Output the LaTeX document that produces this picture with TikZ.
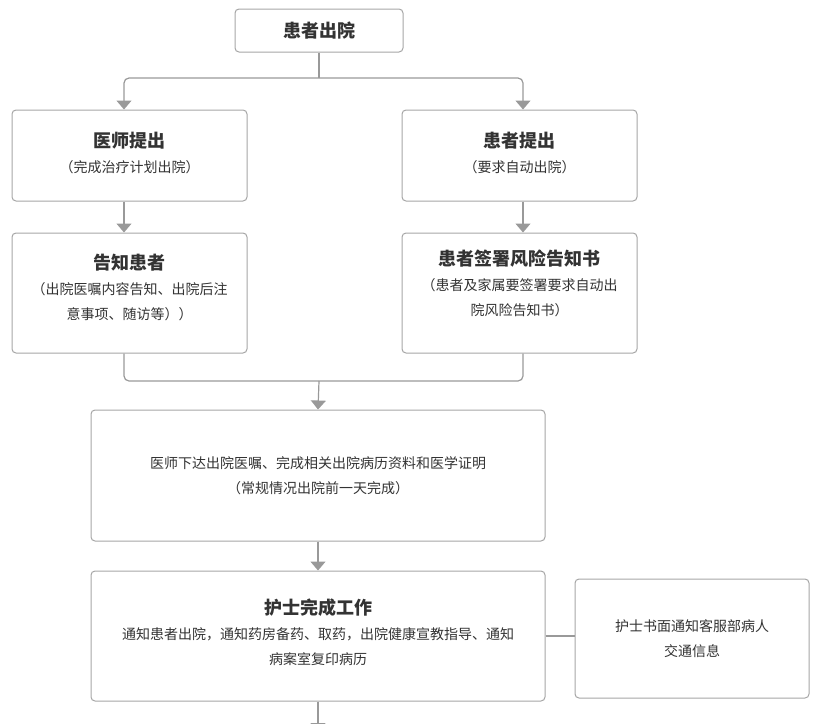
\documentclass[tikz,border=0pt]{standalone}
\usepackage{fontspec}
\setmainfont{Noto Sans CJK SC}
\usetikzlibrary{arrows.meta}
\definecolor{fc-line}{HTML}{999999}
\definecolor{fc-border}{HTML}{A6A6A6}
\definecolor{fc-text}{HTML}{333333}
\newcommand\fctitle{\fontsize{18}{25}\selectfont\bfseries}

\begin{document}
\begin{tikzpicture}[x=1pt, y=-1pt, >={Triangle[width=15pt,length=9pt]},
    box/.style={draw=fc-border, line width=1pt, rounded corners=4pt, fill=white,
        text=fc-text, align=center, inner sep=0pt,
        font=\fontsize{14}{25}\selectfont},
    flow/.style={draw=fc-line, line width=1.2pt, rounded corners=5pt},
    arrow/.style={flow, ->}]
    \clip (0,0) rectangle (824,723);

    % Start
    \node[box, minimum width=168, minimum height=43] (start) at (319,30.5) {\fctitle 患者出院};

    % Two ways out
    \node[box, minimum width=235, minimum height=91, text depth=6pt] (doctor) at (129.5,155.5)
        {{\fctitle 医师提出}\\（完成治疗计划出院）};
    \node[box, minimum width=235, minimum height=91, text depth=6pt] (patient) at (519.5,155.5)
        {{\fctitle 患者提出}\\（要求自动出院）};
    \node[box, minimum width=235, minimum height=120, text depth=12pt] (inform) at (129.5,293)
        {{\fctitle 告知患者}\\（出院医嘱内容告知、出院后注\\意事项、随访等））};
    \node[box, minimum width=235, minimum height=120, text depth=20pt] (sign) at (519.5,293)
        {{\fctitle 患者签署风险告知书}\\（患者及家属要签署要求自动出\\院风险告知书）};

    % Common steps
    \node[box, minimum width=454, minimum height=131] (order) at (318,475.5)
        {医师下达出院医嘱、完成相关出院病历资料和医学证明\\（常规情况出院前一天完成）};
    \node[box, minimum width=454, minimum height=130, text depth=8pt] (nurse) at (318,636)
        {{\fctitle 护士完成工作}\\通知患者出院，通知药房备药、取药，出院健康宣教指导、通知\\病案室复印病历};
    \node[box, minimum width=234, minimum height=119] (notice) at (692,638.5)
        {护士书面通知客服部病人\\交通信息};

    \coordinate (split) at (319,78);
    \coordinate (join) at (319,381);
    \coordinate (next) at (318,732);

    % Connections
    \draw[flow] (start.south) -- (split);
    \draw[arrow] (split) -| ([xshift=-5.5pt]doctor.north);
    \draw[arrow] (split) -| ([xshift=3.5pt]patient.north);
    \draw[arrow] ([xshift=-5.5pt]doctor.south) -- ([xshift=-5.5pt]inform.north);
    \draw[arrow] ([xshift=3.5pt]patient.south) -- ([xshift=3.5pt]sign.north);
    \draw[flow] ([xshift=-5.5pt]inform.south) |- (join) -| ([xshift=3.5pt]sign.south);
    \draw[arrow] (join) -- (order.north);
    \draw[arrow] (order.south) -- (nurse.north);
    \draw[arrow] (nurse.south) -- (next);
    \draw[draw=fc-line, line width=2pt] (nurse.east) -- (nurse.east -| notice.west);
\end{tikzpicture}
\end{document}
